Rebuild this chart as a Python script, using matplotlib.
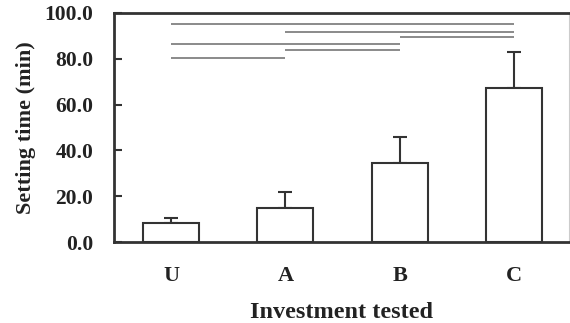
import matplotlib
matplotlib.use("Agg")
import matplotlib.pyplot as plt

categories = ["U", "A", "B", "C"]
means = [8.5, 14.7, 34.4, 67.2]
errors = [2.0, 7.0, 11.3, 15.9]
yticks = [0.0, 20.0, 40.0, 60.0, 80.0, 100.0]
# significance brackets: (from index, to index, y value)
sig_pairs = [(0, 3, 95.2), (1, 3, 91.8), (2, 3, 89.7), (0, 2, 86.6), (1, 2, 83.7), (0, 1, 80.5)]

plt.rcParams['font.family'] = ['Liberation Serif', 'DejaVu Serif']
plt.rcParams['font.weight'] = 'bold'

fig = plt.figure(figsize=(5.7, 3.23), dpi=100)
ax = fig.add_axes([114/570, 1-242/323, (569-114)/570, (242-13)/323])

x = list(range(len(categories)))
ax.bar(x, means, width=0.49, color='white', edgecolor='#333333', linewidth=1.5, zorder=3)
ax.errorbar(x, means, yerr=[[0]*len(errors), errors], fmt='none', ecolor='#333333',
            elinewidth=1.5, capsize=4.7, capthick=1.5, zorder=2)

for i, j, yv in sig_pairs:
    ax.plot([x[i], x[j]], [yv, yv], color='#8a8a8a', linewidth=1.4, solid_capstyle='butt')

ax.set_xlim(-0.5, 3.48)
ax.set_ylim(0, 100)
ax.set_yticks(yticks)
ax.set_yticklabels([f"{v:.1f}" for v in yticks], fontsize=15.5, fontweight='bold', color='#222222')
ax.set_xticks(x)
ax.set_xticklabels(categories, fontsize=16, fontweight='bold', color='#222222')
ax.tick_params(axis='y', direction='in', length=6, width=1.5, color='#333333', pad=15)
ax.tick_params(axis='x', length=0, pad=17)

for s in ['left', 'bottom', 'top']:
    ax.spines[s].set_linewidth(2)
    ax.spines[s].set_color('#333333')
ax.spines['right'].set_linewidth(0.8)
ax.spines['right'].set_color('#cccccc')

ax.set_ylabel("Setting time (min)", fontsize=16, fontweight='bold', color='#222222', labelpad=6)
ax.set_xlabel("Investment tested", fontsize=17.5, fontweight='bold', color='#222222', labelpad=12)

fig.savefig("out.png", dpi=100)
